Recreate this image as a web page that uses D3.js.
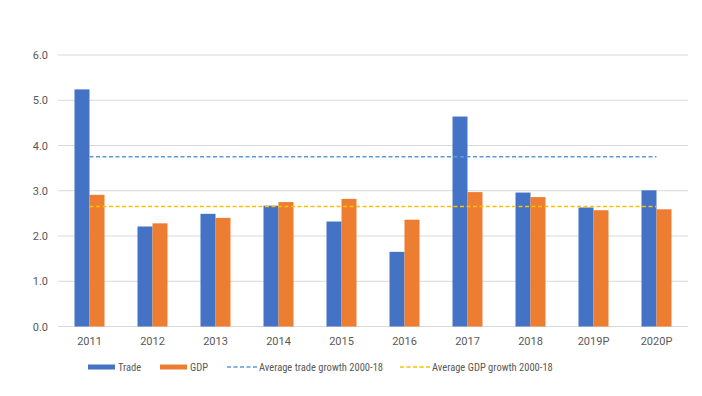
<!DOCTYPE html>
<html><head><meta charset="utf-8">
<script src="https://cdn.jsdelivr.net/npm/d3@7"></script>
<style>
html,body{margin:0;padding:0;background:#fff;}
svg text{font-family:Roboto,"Liberation Sans",sans-serif;fill:#595959;}
svg text.leg{font-family:"Liberation Sans Narrow","Roboto Condensed","DejaVu Sans Condensed",sans-serif;}
</style></head>
<body><svg id="c" width="702" height="396"></svg>
<script>
const categories = ["2011","2012","2013","2014","2015","2016","2017","2018","2019P","2020P"];
const trade = [5.24,2.21,2.49,2.67,2.32,1.65,4.64,2.96,2.63,3.01];
const gdp = [2.91,2.28,2.40,2.75,2.82,2.36,2.97,2.86,2.57,2.59];
const avgTrade = 3.75;
const avgGdp = 2.65;
const yTicks = [0,1,2,3,4,5,6];
const seriesNames = ["Trade","GDP"];
const lineNames = ["Average trade growth 2000-18","Average GDP growth 2000-18"];

const colors = {Trade:"#4472c4", GDP:"#ed7d31", avgTrade:"#5b9bd5", avgGdp:"#ffc000"};
const svg = d3.select("#c");
const m = {left:58, right:14, top:55, bottom:69.5};
const W = 702, H = 396;
const x = d3.scaleBand().domain(categories).range([m.left, W-m.right]).paddingInner(0).paddingOuter(0);
const y = d3.scaleLinear().domain([0,6]).range([H-m.bottom, m.top]);
const barW = 15;

// gridlines
svg.append("g").selectAll("line").data(yTicks).join("line")
  .attr("x1", m.left).attr("x2", W-m.right)
  .attr("y1", d=>y(d)).attr("y2", d=>y(d))
  .attr("stroke","#d9d9d9").attr("stroke-width",1);

// y labels
const yAxis = d3.axisLeft(y).tickValues(yTicks).tickFormat(d3.format(".1f")).tickSize(0).tickPadding(10);
const ya = svg.append("g").attr("transform",`translate(${m.left},0)`).call(yAxis);
ya.select(".domain").remove();
ya.selectAll("text").style("font-size","11px").attr("fill","#595959");

// x labels
const xAxis = d3.axisBottom(x).tickSize(0).tickPadding(11);
const xa = svg.append("g").attr("transform",`translate(0,${y(0)})`).call(xAxis);
xa.select(".domain").remove();
xa.selectAll("text").style("font-size","11px").attr("fill","#595959");

// bars
const g = svg.append("g");
g.selectAll("rect.trade").data(categories).join("rect").attr("class","trade")
  .attr("x", (d)=>x(d)+x.bandwidth()/2-barW)
  .attr("width", barW)
  .attr("y", (d,i)=>y(trade[i]))
  .attr("height", (d,i)=>y(0)-y(trade[i]))
  .attr("fill", colors.Trade);
g.selectAll("rect.gdp").data(categories).join("rect").attr("class","gdp")
  .attr("x", (d)=>x(d)+x.bandwidth()/2)
  .attr("width", barW)
  .attr("y", (d,i)=>y(gdp[i]))
  .attr("height", (d,i)=>y(0)-y(gdp[i]))
  .attr("fill", colors.GDP);

// average lines
const xs = x(categories[0])+x.bandwidth()/2, xe = x(categories[categories.length-1])+x.bandwidth()/2;
svg.append("line").attr("x1",xs).attr("x2",xe).attr("y1",y(avgTrade)).attr("y2",y(avgTrade))
  .attr("stroke",colors.avgTrade).attr("stroke-width",1.5).attr("stroke-dasharray","4,2.5");
svg.append("line").attr("x1",xs).attr("x2",xe).attr("y1",y(avgGdp)).attr("y2",y(avgGdp))
  .attr("stroke",colors.avgGdp).attr("stroke-width",1.5).attr("stroke-dasharray","4,2.5");

// legend
const ly = 367;
const leg = svg.append("g");
const items = [
  {type:"bar", name:seriesNames[0], color:colors.Trade, x:88},
  {type:"bar", name:seriesNames[1], color:colors.GDP, x:160},
  {type:"line", name:lineNames[0], color:colors.avgTrade, x:227},
  {type:"line", name:lineNames[1], color:colors.avgGdp, x:400}
];
items.forEach(it=>{
  if(it.type==="bar"){
    leg.append("rect").attr("x",it.x).attr("y",ly-2.5).attr("width",27).attr("height",5).attr("fill",it.color);
  } else {
    leg.append("line").attr("x1",it.x).attr("x2",it.x+31).attr("y1",ly).attr("y2",ly)
      .attr("stroke",it.color).attr("stroke-width",1.5).attr("stroke-dasharray","4,2.5");
  }
  leg.append("text").attr("class","leg").attr("x", it.x + (it.type==="bar"?30:32)).attr("y", ly).attr("dy","0.35em")
    .style("font-size","10.5px").text(it.name);
});
</script></body></html>
